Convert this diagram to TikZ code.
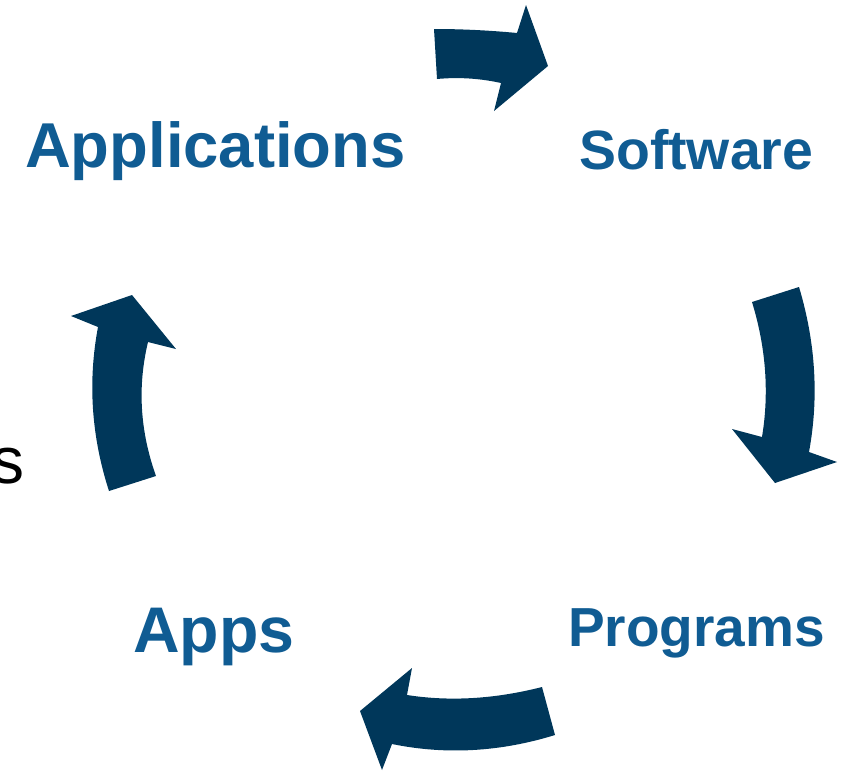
\documentclass[tikz,border=0pt]{standalone}
\usepackage{fontspec}
\setmainfont{Liberation Sans}
\definecolor{arrowblue}{HTML}{00375A}
\definecolor{textblue}{HTML}{105C93}
\begin{document}
\begin{tikzpicture}[x=1pt,y=-1pt,
  cyclearrow/.style={fill=arrowblue,draw=none},
  blueword/.style={anchor=base west,inner sep=0pt,text=textblue},
  plainword/.style={anchor=base west,inner sep=0pt,text=black,font=\fontsize{66pt}{66pt}\selectfont}]
\useasboundingbox (0,0) rectangle (843,771);
\clip (0,0) rectangle (843,771);
% texts
\node[blueword,font=\fontsize{63.4pt}{63pt}\selectfont\bfseries] (applications) at (25,167) {Applications};
\node[blueword,font=\fontsize{55.4pt}{55pt}\selectfont\bfseries] (software) at (579,169) {Software};
\node[blueword,font=\fontsize{55pt}{55pt}\selectfont\bfseries] (programs) at (568,646) {Programs};
\node[blueword,font=\fontsize{64.5pt}{64pt}\selectfont\bfseries] (apps) at (133,652) {Apps};
\node[plainword] (leftover) at (-9,483) {s};
% top arrow
\fill[cyclearrow] (434,29) .. controls (461,29) and (488.7,30.3) .. (517,33)
  -- (526,5) -- (548,66) -- (494,111) -- (501,83)
  .. controls (479.7,78.3) and (458.3,77) .. (437,79) -- cycle;
% right arrow
\fill[cyclearrow] (752,302) -- (799,287)
  .. controls (815.7,342.7) and (819,397.7) .. (809,452)
  -- (837,462) -- (775,483) -- (732,429) -- (762,437)
  .. controls (769.3,392.7) and (766,347.7) .. (752,302) -- cycle;
% bottom arrow
\fill[cyclearrow] (542,687) -- (555,735)
  .. controls (500,752) and (445.7,755) .. (392,744)
  -- (382,770) -- (360,711) -- (412,668) -- (407,695)
  .. controls (450,701.7) and (495,699) .. (542,687) -- cycle;
% left arrow
\fill[cyclearrow] (109,491) -- (156,476)
  .. controls (140,431.3) and (137.3,386.7) .. (148,342)
  -- (176,349) -- (132,295) -- (71,316) -- (98,327)
  .. controls (87.7,381.7) and (91.3,436.3) .. (109,491) -- cycle;
\end{tikzpicture}
\end{document}
